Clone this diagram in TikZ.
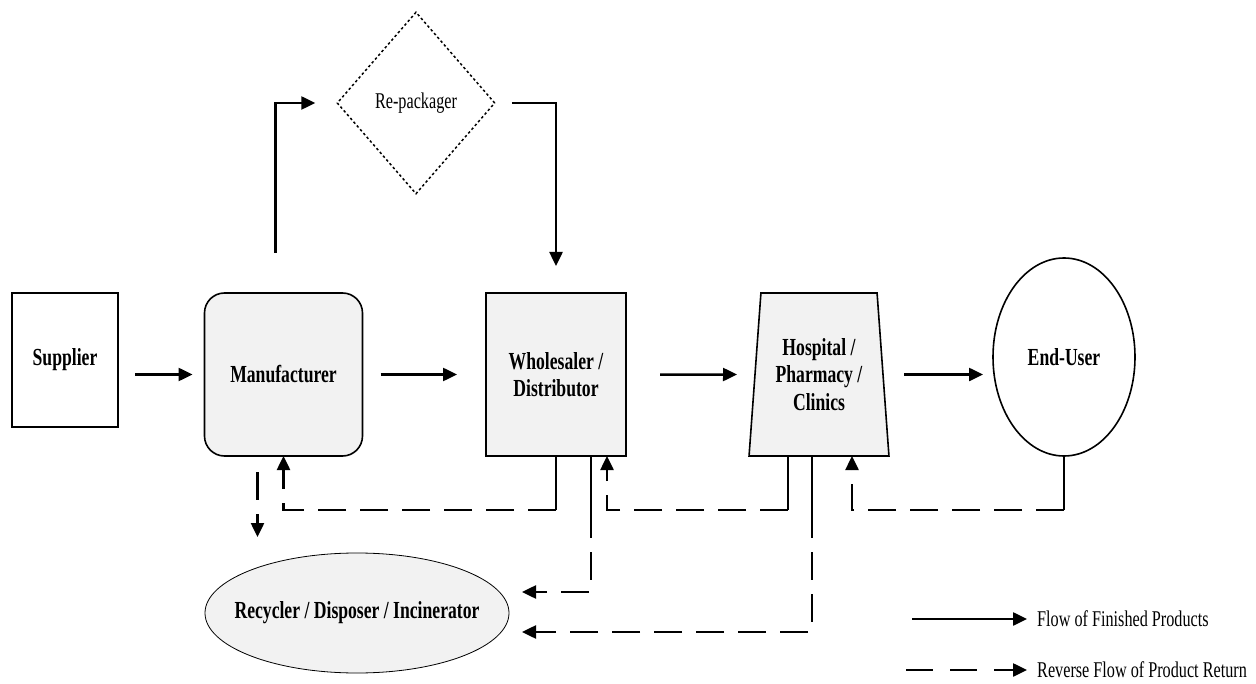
\documentclass[tikz,border=0pt]{standalone}
\usepackage{fontspec}
\setmainfont{Liberation Serif}[FakeStretch=0.72]
\usetikzlibrary{arrows.meta,positioning,shapes.geometric}
\newcommand{\lbl}{\fontsize{22.5}{27}\selectfont}
\newcommand{\blbl}{\fontsize{24.5}{27.5}\selectfont\bfseries}
\tikzset{box/.style={draw, line width=1.6pt, fill=black!5, inner sep=0pt, outer sep=0pt, align=center, font=\blbl}}
\tikzset{arr/.style={draw, line width=2.5pt, -{Triangle[length=14pt,width=13pt]}}}
\tikzset{retarr/.style={arr, dash pattern=on 28pt off 14pt}}
\tikzset{stub/.style={draw, line width=1.5pt}}

\begin{document}
\begin{tikzpicture}[x=1pt, y=-1pt, font=\lbl]
	\useasboundingbox (0,0) rectangle (1256,684);

	\node[box, fill=white, minimum width=106, minimum height=134] (sup) at (65,360) {Supplier};
	\node[box, rounded corners=20, minimum width=158, minimum height=163] (manu) at (283.5,374.5) {Manufacturer};
	\node[box, minimum width=140, minimum height=163] (whole) at (556,374.5) {Wholesaler /\\Distributor};
	\node[box, trapezium, trapezium stretches=true, trapezium angle=83, minimum width=140, minimum height=163] (hosp) at (819,374.5) {Hospital /\\Pharmacy /\\Clinics};
	\node[box, ellipse, fill=white, minimum width=142, minimum height=198] (eu) at (1064,357) {End-User};

	\node[diamond, draw, line width=1.5pt, dash pattern=on 2.5pt off 2.5pt, inner sep=0pt, minimum width=158, minimum height=182] (repack) at (416,103) {Re-packager};
	\node[box, ellipse, line width=0.8pt, inner xsep=-45pt, minimum width=304, minimum height=120] (recy) at (357,613) {Recycler / Disposer / Incinerator};

	% forward flow
	\draw[arr, shorten <=17pt, shorten >=12pt] (sup.east |- manu) -- (manu.west);
	\draw[arr, shorten <=18pt, shorten >=29pt] (manu) -- (whole);
	\draw[arr, shorten <=34pt, shorten >=18pt] (whole) -- (hosp);
	\draw[arr, shorten <=21pt, shorten >=10pt] (hosp.east) -- (eu.west |- hosp.east);
	\draw[arr, shorten <=40pt, shorten >=21pt] ([xshift=-8pt]manu.north) |- (repack.west);
	\draw[arr, shorten <=16pt, shorten >=27pt] (repack.east) -| (whole.north);

	% reverse flow
	\coordinate (retlvl) at (0,510);
	\draw[stub] (whole.south) -- (whole.south |- retlvl);
	\draw[retarr] (whole.south |- retlvl) -| (manu.south);
	\draw[retarr, shorten <=16pt, shorten >=16pt] ([xshift=-26pt]manu.south) -- ([xshift=-26pt]manu.south |- recy.north);
	\draw[stub] ([xshift=35pt]whole.south) -- ([xshift=35pt]whole.south |- retlvl);
	\draw[retarr, shorten >=13pt] ([xshift=35pt]whole.south |- retlvl) |- ([yshift=21pt]recy.east);
	\draw[stub] ([xshift=-31pt]hosp.south) -- ([xshift=-31pt]hosp.south |- retlvl);
	\draw[retarr] ([xshift=-31pt]hosp.south |- retlvl) -| ([xshift=51pt]whole.south);
	\draw[stub] ([xshift=-7pt]hosp.south) -- ([xshift=-7pt]hosp.south |- retlvl);
	\draw[retarr, shorten >=13pt] ([xshift=-7pt]hosp.south |- retlvl) |- ([yshift=-19pt]recy.east);
	\draw[stub] (eu.south) -- (eu.south |- retlvl);
	\draw[retarr] (eu.south |- retlvl) -| ([xshift=33pt]hosp.south);

	% legend
	\node[anchor=west, inner sep=0pt] (lgflow) at (1037,619) {Flow of Finished Products};
	\node[anchor=west, inner sep=0pt] (lgrev) at (1037,670) {Reverse Flow of Product Return};
	\coordinate (lgflowst) at (912,619);
	\coordinate (lgrevst) at (906,670);
	\draw[arr, shorten >=10pt] (lgflowst) -- (lgflow.west);
	\draw[retarr, dash pattern=on 27pt off 17pt, shorten >=10pt] (lgrevst) -- (lgrev.west);
\end{tikzpicture}
\end{document}
